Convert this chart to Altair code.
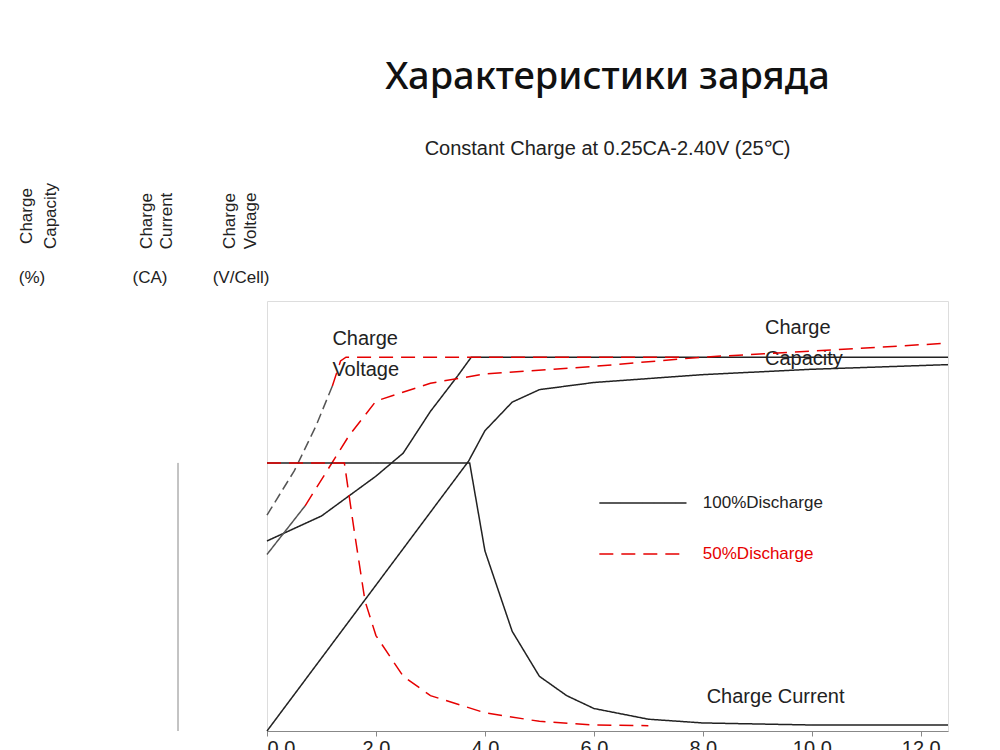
import altair as alt
import pandas as pd

# 100% discharge (black solid)
v100_t = [0, 1, 2, 2.5, 3, 3.5, 3.75, 12.5]
v100_v = [2.00, 2.052, 2.135, 2.183, 2.27, 2.344, 2.383, 2.383]
c100_t = [0, 3.7, 4, 4.5, 5, 6, 8, 10, 12.5]
c100_c = [0, 75.5, 84, 92, 95.5, 97.5, 99.7, 101.2, 102.5]
i100_t = [0, 3.72, 4, 4.5, 5, 5.5, 6, 7, 8, 10, 12.5]
i100_i = [0.25, 0.25, 0.168, 0.093, 0.051, 0.033, 0.021, 0.011, 0.0075, 0.0056, 0.0056]

# 50% discharge (red dashed)
v50_t = [0, 0.5, 0.9, 1.2, 1.35, 1.45, 7.7]
v50_v = [2.054, 2.146, 2.24, 2.323, 2.375, 2.383, 2.383]
c50_t = [0, 0.7, 1.5, 2, 3, 4, 6, 8, 10, 12.5]
c50_c = [49.4, 63, 82.5, 92.3, 97.3, 99.9, 102, 104.6, 106.3, 108.5]
i50_t = [0, 1.42, 1.6, 1.8, 2, 2.5, 3, 4, 5, 6, 7]
i50_i = [0.25, 0.25, 0.187, 0.121, 0.089, 0.051, 0.033, 0.017, 0.009, 0.0056, 0.005]

VDOM = [1.604, 2.50]
CDOM = [0, 120.3]
IDOM = [0, 0.401]
BLACK = "#222222"
RED = "#e60000"
FONT = "Liberation Sans"

xs = alt.Scale(domain=[0, 12.5], nice=False)
xax = alt.Axis(values=[0, 2, 4, 6, 8, 10, 12], title="Time(hour)", labelFontSize=20,
               titleFontSize=20, titleFontWeight="normal", labelColor=BLACK, titleColor=BLACK,
               domainColor="#888", tickColor="#888", grid=False, titlePadding=4)

def line(t, y, name, dom, color, dash, axis=None):
    df = pd.DataFrame({"t": t, "y": y})
    return alt.Chart(df).mark_line(color=color, strokeWidth=1.5, strokeDash=dash).encode(
        x=alt.X("t:Q", scale=xs, axis=xax),
        y=alt.Y("y:Q", scale=alt.Scale(domain=dom, nice=False, zero=False), axis=axis),
    )

vax = alt.Axis(orient="left", values=[1.7, 1.8, 1.9, 2.0, 2.1, 2.2, 2.3, 2.4], title=None,
               labelExpr="datum.value*10 % 2 < 0.5 || datum.value*10 % 2 > 1.5 ? format(datum.value, '.2f') : ''",
               labelFontSize=20, labelColor=BLACK, domainColor="#888", tickColor="#aaa", grid=False)
cax = alt.Axis(orient="left", offset=192, values=[0, 20, 40, 60, 80, 100, 120], title=None,
               labelFontSize=20, labelColor=BLACK, domainColor="#888", ticks=False, grid=False)
iax = alt.Axis(orient="left", offset=89, values=[0, 0.05, 0.10, 0.15, 0.20, 0.25], title=None,
               labelExpr="datum.value == 0 ? '0' : format(datum.value, '.2f')",
               labelFontSize=20, labelColor=BLACK, domain=False, ticks=False, grid=False)

one = pd.DataFrame({"a": [0]})

def label(txt, x, y, size=17, angle=0, color=BLACK, align="center"):
    return alt.Chart(one).mark_text(text=txt, fontSize=size, angle=angle, color=color, clip=False,
                                    font=FONT, align=align, baseline="middle").encode(
        x=alt.value(x), y=alt.value(y))

def dlabel(txt, t, v, size=20, color=BLACK):
    df = pd.DataFrame({"t": [t], "y": [v]})
    return alt.Chart(df).mark_text(text=txt, fontSize=size, color=color, font=FONT,
                                   align="left", baseline="middle").encode(
        x=alt.X("t:Q", scale=xs), y=alt.Y("y:Q", scale=alt.Scale(domain=VDOM, nice=False, zero=False)))

leg_black = line([6.1, 7.7], [2.079, 2.079], "l1", VDOM, BLACK, [1, 0])
leg_red = line([6.1, 7.7], [1.973, 1.973], "l2", VDOM, RED, [14, 8])

volt = alt.layer(
    line(v100_t, v100_v, "v100", VDOM, BLACK, [1, 0], vax),
    line(v50_t[:4], v50_v[:4], "v50a", VDOM, "#555555", [10, 5]),
    line(v50_t[3:], v50_v[3:], "v50b", VDOM, RED, [14, 8]),
    leg_black, leg_red,
    dlabel("100%Discharge", 8.0, 2.079, 17),
    dlabel("50%Discharge", 8.0, 1.973, 17, RED),
    dlabel("Charge", 1.2, 2.42),
    dlabel("Voltage", 1.2, 2.357),
    dlabel("Charge", 9.14, 2.443),
    dlabel("Capacity", 9.14, 2.38),
    dlabel("Charge Current", 8.07, 1.675),
    label("Charge", -240, -85, angle=270),
    label("Capacity", -216, -85, angle=270),
    label("(%)", -235, -23),
    label("Charge", -120, -80, angle=270),
    label("Current", -100, -80, angle=270),
    label("(CA)", -117, -23),
    label("Charge", -37, -80, angle=270),
    label("Voltage", -16, -80, angle=270),
    label("(V/Cell)", -26, -23),
)

cap = alt.layer(
    line(c100_t, c100_c, "c100", CDOM, BLACK, [1, 0], cax),
    line(c50_t[:2], c50_c[:2], "c50a", CDOM, "#555555", [1, 0]),
    line(c50_t[1:], c50_c[1:], "c50b", CDOM, RED, [14, 8]),
)

iax_rule = alt.Chart(pd.DataFrame({"y": [0], "y2": [0.25]})).mark_rule(color="#888", clip=False).encode(
    x=alt.value(-89), y=alt.Y("y:Q", scale=alt.Scale(domain=IDOM, nice=False), axis=None), y2="y2:Q")

cur = alt.layer(
    line(i100_t, i100_i, "i100", IDOM, BLACK, [1, 0], iax),
    line(i50_t, i50_i, "i50", IDOM, RED, [14, 8]),
    iax_rule,
)

chart = alt.layer(volt, cap, cur).resolve_scale(y="independent").properties(
    width=681, height=430,
    padding={"left": 10, "top": 50, "right": 20, "bottom": 10},
    title=alt.TitleParams("Характеристики заряда", subtitle="Constant Charge at 0.25CA-2.40V  (25℃)",
                          fontSize=38, font="Noto Sans", fontWeight=500, color="#111",
                          subtitleFontSize=20, subtitleFont=FONT, subtitleColor="#222",
                          subtitlePadding=42, offset=24, anchor="middle"),
).configure_view(stroke="#bbb").configure(font=FONT)

chart.save("out.html", embed_options={"renderer": "svg", "actions": False})
